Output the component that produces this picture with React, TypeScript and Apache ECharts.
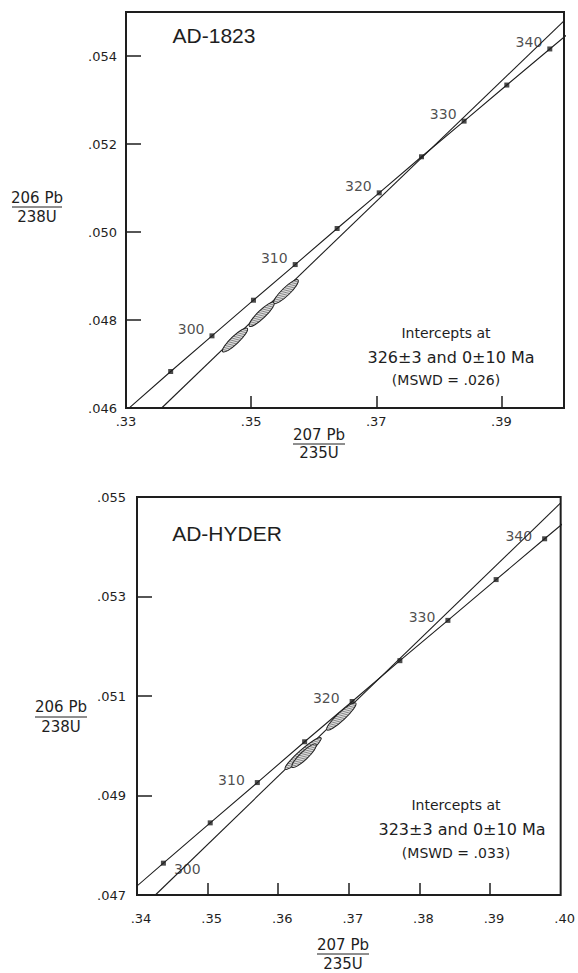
import React, { useEffect, useRef } from "react";
import * as echarts from "echarts";

// Concordia (U-Pb) points, ages in Ma
const concordiaAges = [290, 295, 300, 305, 310, 315, 320, 325, 330, 335, 340, 345];
const concordiaX = [0.33057, 0.33714, 0.34374, 0.35037, 0.35704, 0.36374, 0.37047, 0.37723, 0.38403, 0.39086, 0.39773, 0.40463];
const concordiaY = [0.04601, 0.04683, 0.04764, 0.04845, 0.04926, 0.05008, 0.05089, 0.05171, 0.05252, 0.05334, 0.05416, 0.05498];

const markedAges1 = [295, 300, 305, 310, 315, 320, 325, 330, 335, 340];
const markedAges2 = [300, 305, 310, 315, 320, 325, 330, 335, 340];
const labelledAges = [300, 310, 320, 330, 340];

// Discordia lines (two points each)
const discordia1X = [0.3357, 0.4];
const discordia1Y = [0.046, 0.0548];
const discordia2X = [0.3426, 0.4];
const discordia2Y = [0.047, 0.05488];

// Error ellipses: tip1 x, tip1 y, tip2 x, tip2 y
const ellipses1 = [
  [0.34545, 0.04728, 0.34939, 0.04781],
  [0.34972, 0.04786, 0.35366, 0.0484],
  [0.35365, 0.04838, 0.35749, 0.04891],
];
const ellipses2 = [
  [0.36099, 0.04953, 0.36606, 0.05016],
  [0.36197, 0.04957, 0.36535, 0.05003],
  [0.3669, 0.05032, 0.37099, 0.05086],
];

// Axis ticks and labels
const x1Labels = [0.33, 0.35, 0.37, 0.39];
const x1Ticks = [0.35, 0.37, 0.39];
const y1Labels = [0.046, 0.048, 0.05, 0.052, 0.054];
const y1Ticks = [0.048, 0.05, 0.052, 0.054];
const x2Labels = [0.34, 0.35, 0.36, 0.37, 0.38, 0.39, 0.4];
const x2Ticks = [0.35, 0.36, 0.37, 0.38, 0.39];
const y2Labels = [0.047, 0.049, 0.051, 0.053, 0.055];
const y2Ticks = [0.049, 0.051, 0.053];

const titles = ["AD-1823", "AD-HYDER"];
const interceptLines1 = ["Intercepts at", "326\u00b13 and 0\u00b110 Ma", "(MSWD = .026)"];
const interceptLines2 = ["Intercepts at", "323\u00b13 and 0\u00b110 Ma", "(MSWD = .033)"];

const FONT = "'DejaVu Sans', 'Liberation Sans', Arial, sans-serif";
const TFONT = "'Liberation Sans', Arial, Helvetica, sans-serif";
const INK = "#1e1e1e";

function text(x: number, y: number, t: string, size: number, family = FONT) {
  return {
    type: "text",
    x,
    y,
    z: 10,
    style: {
      text: t,
      fontSize: size,
      fontFamily: family,
      fill: INK,
      align: "center",
      textAlign: "center",
      verticalAlign: "middle",
      textVerticalAlign: "middle",
    },
  };
}
function hline(x1: number, x2: number, y: number) {
  return { type: "line", z: 10, shape: { x1, y1: y, x2, y2: y }, style: { stroke: INK, lineWidth: 1 } };
}

export default function App() {
  const ref = useRef<HTMLDivElement>(null);
  useEffect(() => {
    if (!ref.current) return;
    const chart = echarts.init(ref.current, null, { renderer: "svg" });

    const fmtX = (v: number) => v.toFixed(2).replace(/^0/, "");
    const fmtY = (v: number) => v.toFixed(3).replace(/^0/, "");

    const axisX = (idx: number, min: number, max: number, labels: number[], ticks: number[], margin: number, pad: number) => ({
      type: "value",
      gridIndex: idx,
      min,
      max,
      splitLine: { show: false },
      axisLine: { show: false },
      axisTick: { show: true, inside: true, length: 12, customValues: ticks, lineStyle: { color: INK, width: 1.5 } },
      axisLabel: {
        show: true,
        customValues: labels,
        formatter: fmtX,
        margin,
        color: INK,
        fontSize: 13,
        fontFamily: FONT,
        padding: [0, 0, 0, pad],
      },
    });
    const axisY = (idx: number, min: number, max: number, labels: number[], ticks: number[], margin: number) => ({
      type: "value",
      gridIndex: idx,
      min,
      max,
      splitLine: { show: false },
      axisLine: { show: false },
      axisTick: { show: true, inside: true, length: 15, customValues: ticks, lineStyle: { color: INK, width: 1.5 } },
      axisLabel: { show: true, customValues: labels, formatter: fmtY, margin, color: INK, fontSize: 13, fontFamily: FONT },
    });

    const ellipseRender = (params: any, api: any) => {
      const p1 = api.coord([api.value(0), api.value(1)]);
      const p2 = api.coord([api.value(2), api.value(3)]);
      const cx = (p1[0] + p2[0]) / 2;
      const cy = (p1[1] + p2[1]) / 2;
      const dx = p2[0] - p1[0];
      const dy = p2[1] - p1[1];
      const len = Math.sqrt(dx * dx + dy * dy);
      const ang = Math.atan2(dy, dx);
      const rx = len / 2;
      const ry = 4;
      const hatch: any[] = [];
      const step = 2.6;
      for (let u = -rx + step; u < rx - 0.5; u += step) {
        const h = ry * Math.sqrt(Math.max(0, 1 - (u / rx) * (u / rx)));
        hatch.push({
          type: "line",
          shape: { x1: u - h * 0.6, y1: -h, x2: u + h * 0.6, y2: h },
          style: { stroke: "#555", lineWidth: 0.6 },
        });
      }
      return {
        type: "group",
        x: cx,
        y: cy,
        rotation: -ang,
        children: [
          { type: "ellipse", shape: { cx: 0, cy: 0, rx, ry }, style: { fill: "#dcdcdc", stroke: "none" } },
          ...hatch,
          { type: "ellipse", shape: { cx: 0, cy: 0, rx, ry }, style: { fill: "none", stroke: INK, lineWidth: 1 } },
        ],
      };
    };

    const concordiaData = concordiaX.map((x, i) => [x, concordiaY[i]]);

    const markers = (ages: number[], labelOpt: (age: number) => any) =>
      ages.map((age) => {
        const i = concordiaAges.indexOf(age);
        const item: any = { value: [concordiaX[i], concordiaY[i], age] };
        if (labelledAges.indexOf(age) >= 0) item.label = { show: true, ...labelOpt(age) };
        return item;
      });

    const labelStyle = { color: INK, fontSize: 14, fontFamily: FONT, formatter: (p: any) => String(p.value[2]) };

    const seriesFor = (idx: number, dX: number[], dY: number[], ells: number[][], ages: number[], labelOpt: (a: number) => any) => [
      {
        type: "line",
        xAxisIndex: idx,
        yAxisIndex: idx,
        data: concordiaData,
        symbol: "none",
        lineStyle: { color: INK, width: 1.1 },
        clip: true,
        z: 2,
      },
      {
        type: "line",
        xAxisIndex: idx,
        yAxisIndex: idx,
        data: dX.map((x, i) => [x, dY[i]]),
        symbol: "none",
        lineStyle: { color: INK, width: 1.1 },
        clip: true,
        z: 2,
      },
      {
        type: "custom",
        xAxisIndex: idx,
        yAxisIndex: idx,
        data: ells,
        renderItem: ellipseRender,
        encode: { x: [0, 2], y: [1, 3] },
        z: 3,
      },
      {
        type: "scatter",
        xAxisIndex: idx,
        yAxisIndex: idx,
        symbol: "rect",
        symbolSize: 5,
        itemStyle: { color: INK },
        label: { show: false, ...labelStyle },
        data: markers(ages, labelOpt),
        z: 4,
      },
    ];

    const option: any = {
      animation: false,
      backgroundColor: "#ffffff",
      grid: [
        { left: 126, top: 12, width: 438, height: 396, show: true, borderColor: INK, borderWidth: 2, backgroundColor: "transparent" },
        { left: 137, top: 497, width: 427, height: 398, show: true, borderColor: INK, borderWidth: 2, backgroundColor: "transparent" },
      ],
      xAxis: [axisX(0, 0.33, 0.4, x1Labels, x1Ticks, 7, 0), axisX(1, 0.34, 0.4, x2Labels, x2Ticks, 17, 8)],
      yAxis: [axisY(0, 0.046, 0.055, y1Labels, y1Ticks, 9), axisY(1, 0.047, 0.055, y2Labels, y2Ticks, 11)],
      series: [
        ...seriesFor(0, discordia1X, discordia1Y, ellipses1, markedAges1, () => ({ position: "left", distance: 5, offset: [0, -7] })),
        ...seriesFor(1, discordia2X, discordia2Y, ellipses2, markedAges2, (a) =>
          a === 300 ? { position: "right", distance: 8, offset: [0, 6] } : { position: "left", distance: 10, offset: [0, -3] }
        ),
      ],
      graphic: [
        text(214, 35, titles[0], 21, TFONT),
        text(227, 533, titles[1], 21, TFONT),
        text(446, 333, interceptLines1[0], 14),
        text(451, 357, interceptLines1[1], 16),
        text(446, 380, interceptLines1[2], 14),
        text(456, 805, interceptLines2[0], 14),
        text(462, 829, interceptLines2[1], 16),
        text(456, 853, interceptLines2[2], 14),
        // y axis names
        text(37, 198, "206 Pb", 15),
        hline(12, 62, 207),
        text(37, 217, "238U", 15),
        text(61, 707, "206 Pb", 15),
        hline(35, 87, 717),
        text(61, 727, "238U", 15),
        // x axis names
        text(319, 435, "207 Pb", 15),
        hline(293, 345, 444),
        text(319, 453, "235U", 15),
        text(343, 945, "207 Pb", 15),
        hline(317, 369, 954),
        text(343, 964, "235U", 15),
      ],
    };
    chart.setOption(option);
    return () => chart.dispose();
  }, []);
  return <div ref={ref} style={{ position: "absolute", left: 0, top: 0, width: 578, height: 973, background: "#fff" }} />;
}
